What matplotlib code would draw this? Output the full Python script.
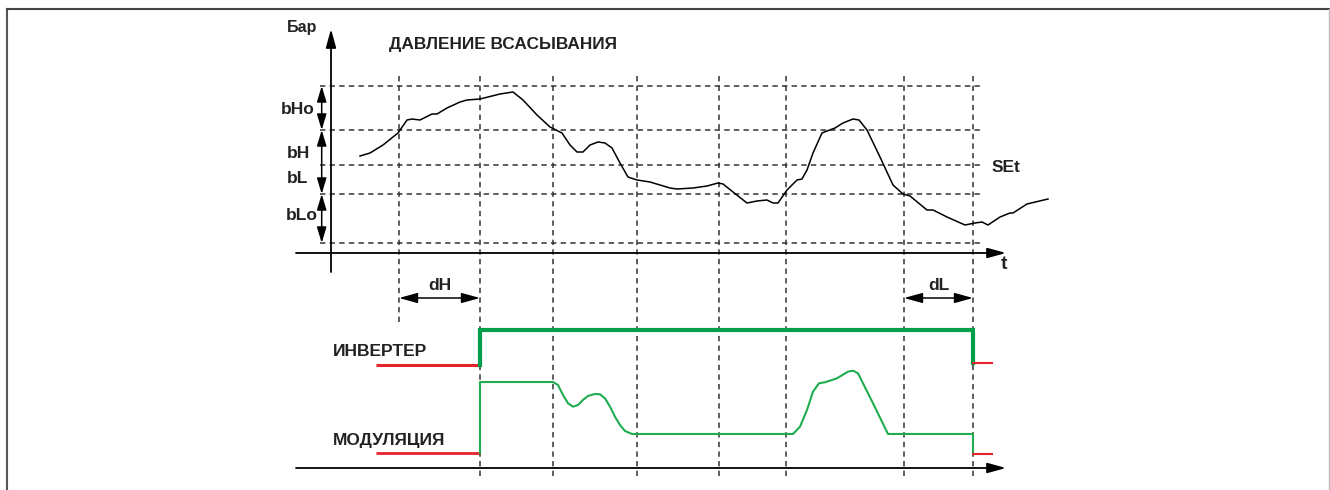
import matplotlib.pyplot as plt
from matplotlib.lines import Line2D

plt.rcParams['font.family'] = ['Liberation Sans', 'DejaVu Sans']

# pressure curve (time units, pressure units above the t axis)
time = [2.9, 3.9, 5.2, 6.7, 7.6, 8.1, 8.9, 10.1, 10.6, 11.6, 12.9, 13.6, 14.9, 16.9, 18.2, 19.2,
        20.6, 21.9, 23.1, 23.9, 24.6, 25.2, 25.9, 26.7, 27.4, 28.1, 28.9, 29.7, 30.6, 31.9, 33.9,
        34.6, 36.2, 37.6, 38.7, 39.2, 40.2, 41.6, 42.6, 43.6, 44.2, 44.7, 45.6, 46.6, 47.1, 47.6,
        48.2, 49.1, 49.6, 50.4, 51.2, 52.2, 52.8, 53.6, 54.9, 56.2, 57.2, 57.9, 59.6, 60.2, 61.6,
        63.4, 64.4, 65.1, 65.7, 66.9, 67.9, 68.2, 69.6, 71.7]
pressure = [9.7, 10.0, 10.8, 12.0, 13.3, 13.4, 13.3, 13.9, 13.9, 14.5, 15.1, 15.3, 15.4, 15.9, 16.1, 15.3,
            13.8, 12.6, 12.0, 10.8, 10.1, 10.1, 10.8, 11.1, 11.0, 10.5, 9.0, 7.6, 7.3, 7.1, 6.5,
            6.4, 6.5, 6.7, 7.0, 6.9, 6.1, 5.0, 5.2, 5.3, 5.0, 5.0, 6.3, 7.3, 7.4, 8.3,
            10.0, 12.0, 12.2, 12.5, 13.0, 13.4, 13.3, 12.3, 9.6, 6.8, 5.9, 5.7, 4.3, 4.3, 3.6,
            2.8, 3.0, 3.1, 2.8, 3.6, 4.0, 4.0, 4.9, 5.4]

# threshold levels
level_names = ['bHo_top', 'bH', 'SEt', 'bL', 'bLo_bottom']
levels = [16.7, 12.3, 8.8, 5.9, 1.0]

# event times (vertical dashed lines)
events = [6.8, 14.9, 22.2, 30.6, 38.8, 45.5, 57.3, 64.2]
t_on = 14.9
t_off = 64.2

# modulation (percent)
mod_time = [14.9, 14.9, 22.2, 22.7, 23.2, 23.7, 24.2, 24.7, 25.2, 25.7, 26.4, 26.9, 27.4, 27.9,
            28.4, 28.9, 29.4, 30.1, 46.2, 46.9, 47.6, 48.2, 48.8, 49.4, 50.6, 51.7, 52.2, 52.7,
            54.2, 55.7, 64.2, 64.2]
modulation = [0, 85.5, 85.5, 81.9, 69.9, 59.9, 55.8, 57.8, 63.9, 68.7, 71.1, 70.7, 65.9, 55.8,
              43.7, 33.7, 26.5, 22.9, 22.9, 31.7, 51.8, 73.9, 84.0, 85.2, 90.0, 98.0, 99.2, 96.0,
              59.9, 22.9, 22.9, 0]

GREEN = '#00a04b'
GREEN2 = '#1fad4f'
RED = '#e4232b'
DASH = '#333333'

fig = plt.figure(figsize=(13.3, 4.9), dpi=100)
ax = fig.add_axes([0, 0, 1, 1])
ax.set_xlim(-33.1, 99.9)
ax.set_ylim(-23.7, 25.3)
ax.axis('off')

# signal axes overlay
axs = fig.add_axes([0, 0, 1, 1])
axs.set_xlim(-33.1, 99.9)
axs.set_ylim(-44.6, 545.8)
axs.axis('off')
axs.patch.set_alpha(0)

dash = dict(color=DASH, lw=1.1, linestyles=(0, (3.5, 2.8)))
ax.hlines(levels, -1.1, 65.2, **dash)
ax.vlines(events[0], -6.9, 17.8, **dash)
ax.vlines(events[1:], -22.3, 17.8, **dash)

# axes with arrows
axis_arrow = dict(arrowstyle='-|>,head_length=0.8,head_width=0.22', color='black', lw=1.3,
                  mutation_scale=14, shrinkA=0, shrinkB=0)
ax.annotate('', xy=(0, 22.4), xytext=(0, -1.9), arrowprops=axis_arrow)
ax.annotate('', xy=(67.5, 0), xytext=(-3.5, 0), arrowprops=axis_arrow)
ax.annotate('', xy=(67.5, -21.5), xytext=(-3.5, -21.5), arrowprops=axis_arrow)

# level double arrows
dbl = dict(arrowstyle='<|-|>,head_length=0.8,head_width=0.24', color='black', lw=1.1,
           mutation_scale=12, shrinkA=0, shrinkB=0)
for top, bot in [(levels[0], levels[1]), (levels[1], levels[3]), (levels[3], levels[4])]:
    ax.annotate('', xy=(-0.93, top), xytext=(-0.93, bot), arrowprops=dbl)

# delay arrows
dly = dict(arrowstyle='<|-|>,head_length=0.8,head_width=0.22', color='black', lw=1.1,
           mutation_scale=14, shrinkA=0, shrinkB=0)
ax.annotate('', xy=(events[0], -4.5), xytext=(events[1], -4.5), arrowprops=dly)
ax.annotate('', xy=(events[6], -4.5), xytext=(events[7], -4.5), arrowprops=dly)

ax.plot(time, pressure, color='black', lw=1.1)

# inverter
inv_low, inv_high = 106, 148
axs.plot([4.5, t_on], [inv_low, inv_low], color=RED, lw=2.2, solid_capstyle='butt')
axs.plot([t_on, t_on, t_off, t_off], [inv_low, inv_high, inv_high, inv_low + 2],
         color=GREEN, lw=3, solid_joinstyle='miter')
axs.plot([t_off, 66.1], [inv_low + 2, inv_low + 2], color=RED, lw=1.5)

# modulation
axs.plot([4.5, t_on], [0, 0], color=RED, lw=2, solid_capstyle='butt')
axs.plot(mod_time, modulation, color=GREEN2, lw=1.5)
axs.plot([t_off, 66.1], [-1, -1], color=RED, lw=1.5)

bold = dict(fontweight='bold', color='#222222')
ax.text(-4.4, 22.6, 'Бар', fontsize=11.5, ha='left', va='center', **bold)
ax.text(5.8, 20.9, 'ДАВЛЕНИЕ ВСАСЫВАНИЯ', fontsize=12.4, ha='left', va='center', **bold)
ax.text(-5.0, 14.4, 'bHo', fontsize=12.5, ha='left', va='center', **bold)
ax.text(-4.4, 10.0, 'bH', fontsize=12.5, ha='left', va='center', **bold)
ax.text(-4.4, 7.5, 'bL', fontsize=12.5, ha='left', va='center', **bold)
ax.text(-4.5, 3.8, 'bLo', fontsize=12.5, ha='left', va='center', **bold)
ax.text(66.1, 8.6, 'SEt', fontsize=12.5, ha='left', va='center', **bold)
ax.text(67.0, -1.1, 't', fontsize=14, ha='left', va='center', **bold)
ax.text(10.85, -3.2, 'dH', fontsize=12.5, ha='center', va='center', **bold)
ax.text(60.75, -3.2, 'dL', fontsize=12.5, ha='center', va='center', **bold)
ax.text(0.2, -9.8, 'ИНВЕРТЕР', fontsize=12.5, ha='left', va='center', **bold)
ax.text(0.2, -18.7, 'МОДУЛЯЦИЯ', fontsize=12.5, ha='left', va='center', **bold)

# frame
fig.add_artist(Line2D([7 / 1330, 7 / 1330], [0, 1 - 9 / 490], color='#555555', lw=1.5))
fig.add_artist(Line2D([7 / 1330, 1329 / 1330], [1 - 9 / 490, 1 - 9 / 490], color='#444444', lw=1.5))
fig.add_artist(Line2D([1329 / 1330, 1329 / 1330], [0, 1 - 9 / 490], color='#bbbbbb', lw=1))

fig.savefig('out.png', dpi=100)
